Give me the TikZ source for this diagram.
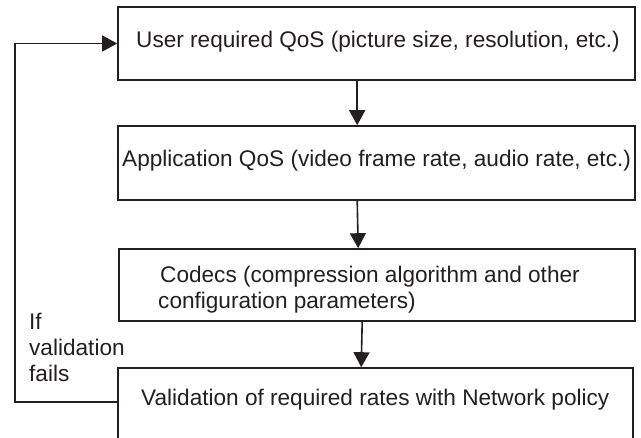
\documentclass[tikz,border=0pt]{standalone}
\usepackage{fontspec}
\setmainfont{Liberation Sans}
\usetikzlibrary{arrows.meta}
\definecolor{ink}{HTML}{231F20}
\begin{document}
\begin{tikzpicture}[x=1pt,y=-1pt,
  box/.style={draw=ink,line width=1.6pt,rectangle,inner sep=0pt},
  txt/.style={inner sep=0pt,anchor=base west,text=ink,font=\fontsize{22.6}{26}\selectfont},
  arr/.style={draw=ink,line width=1.6pt,-{Triangle[length=15pt,width=16pt]}}]
\useasboundingbox (0,0) rectangle (641,438);
\clip (0,0) rectangle (641,438);
\fill[white] (0,0) rectangle (641,438);
\node[box,minimum width=517pt,minimum height=73pt] (b1) at (376.5,43.5) {};
\node[box,minimum width=517pt,minimum height=74pt] (b2) at (376.5,163) {};
\node[box,minimum width=516pt,minimum height=72pt] (b3) at (377,285) {};
\node[box,minimum width=515pt,minimum height=80pt] (b4) at (375.5,408) {};
\node[txt] (t1) at (136,48) {User required QoS (picture size, resolution, etc.)};
\node[txt] (t2) at (122,167) {Application QoS (video frame rate, audio rate, etc.)};
\node[txt] (t3a) at (160,283) {Codecs (compression algorithm and other};
\node[txt] (t3b) at (158,309) {configuration parameters)};
\node[txt] (t4) at (141,406) {Validation of required rates with Network policy};
\node[txt] (la) at (29,330) {If};
\node[txt] (lb) at (29,356) {validation};
\node[txt] (lc) at (29,382) {fails};
\draw[arr] ([xshift=240pt]b1.south west) -- ([xshift=240pt]b2.north west);
\draw[arr] ([xshift=240pt]b2.south west) -- ([xshift=240pt]b3.north west);
\draw[arr] ([xshift=244pt]b3.south west) -- ([xshift=244pt]b4.north west);
\draw[arr] ([yshift=-35pt]b4.north west) -- ++(-102,0) |- (b1.west);
\end{tikzpicture}
\end{document}
